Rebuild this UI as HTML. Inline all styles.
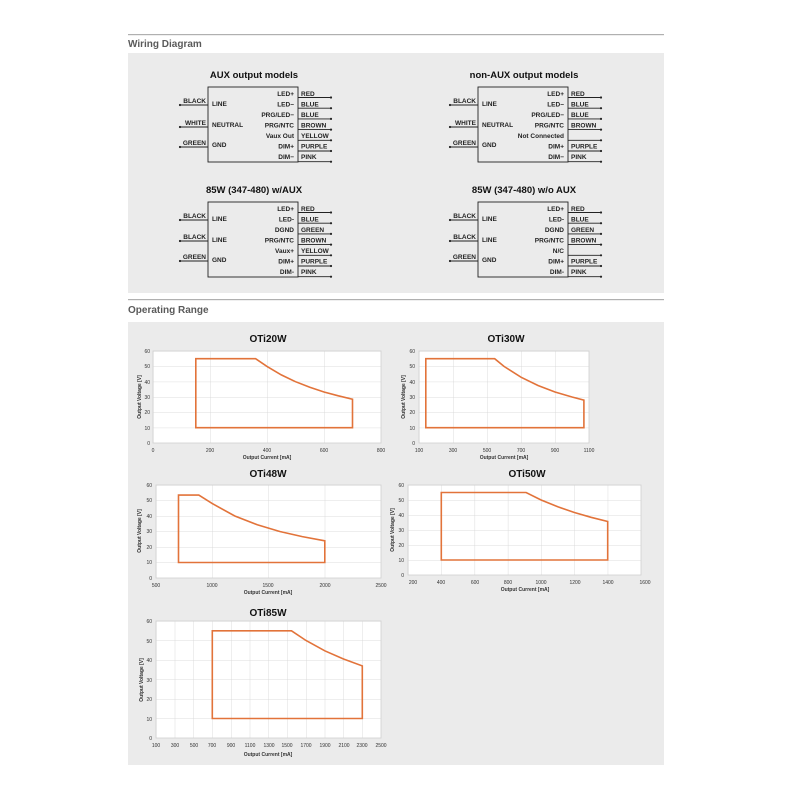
<!DOCTYPE html>
<html><head><meta charset="utf-8"><style>
html,body{margin:0;padding:0;background:#fff;}
svg{display:block;font-family:"Liberation Sans",Arial,sans-serif;}
.h{font-size:10px;font-weight:bold;fill:#5a5a5a}
.bt{font-size:9.5px;font-weight:bold;fill:#111}
.wl{font-size:6.5px;font-weight:bold;fill:#222}
.ct{font-size:10px;font-weight:bold;fill:#111}
.tk{font-size:5px;fill:#333}
.ax{font-size:5px;font-weight:bold;fill:#333}
.o{fill:none;stroke:#e2733a;stroke-width:1.6}
</style></head><body>
<svg width="800" height="800" viewBox="0 0 800 800">
<defs>
<pattern id="g1" patternUnits="userSpaceOnUse" x="153" y="351" width="57" height="15.333"><path d="M0 0H57M0 0V15.333" stroke="#d4d4d4" stroke-width="0.8" fill="none"/></pattern>
<pattern id="g2" patternUnits="userSpaceOnUse" x="419" y="351" width="34" height="15.333"><path d="M0 0H34M0 0V15.333" stroke="#d4d4d4" stroke-width="0.8" fill="none"/></pattern>
<pattern id="g3" patternUnits="userSpaceOnUse" x="156" y="485" width="56.25" height="15.5"><path d="M0 0H56.25M0 0V15.5" stroke="#d4d4d4" stroke-width="0.8" fill="none"/></pattern>
<pattern id="g4" patternUnits="userSpaceOnUse" x="408" y="485" width="33.286" height="15"><path d="M0 0H33.286M0 0V15" stroke="#d4d4d4" stroke-width="0.8" fill="none"/></pattern>
<pattern id="g5" patternUnits="userSpaceOnUse" x="156" y="621" width="18.75" height="19.5"><path d="M0 0H18.75M0 0V19.5" stroke="#d4d4d4" stroke-width="0.8" fill="none"/></pattern>
<g id="rw">
<path d="M0 10.5H33M0 21.2H33M0 31.9H33M0 42.6H33M0 53.3H33M0 64H33M0 74.7H33" stroke="#222" stroke-width="0.9"/>
<g fill="#222"><circle cx="33" cy="10.5" r="1.1"/><circle cx="33" cy="21.2" r="1.1"/><circle cx="33" cy="31.9" r="1.1"/><circle cx="33" cy="42.6" r="1.1"/><circle cx="33" cy="53.3" r="1.1"/><circle cx="33" cy="64" r="1.1"/><circle cx="33" cy="74.7" r="1.1"/></g>
</g>
</defs>
<rect x="0" y="0" width="800" height="800" fill="#fff"/>
<!-- Wiring header -->
<rect x="128" y="34" width="536" height="1.2" fill="#b0b0b0"/>
<text x="128" y="47" class="h">Wiring Diagram</text>
<rect x="128" y="53" width="536" height="240" fill="#ebebeb"/>

<!-- Block 1: AUX -->
<text x="254" y="78" class="bt" text-anchor="middle">AUX output models</text>
<g transform="translate(208,87)">
<rect x="0" y="0" width="90" height="75" fill="none" stroke="#222" stroke-width="0.9"/>
<use href="#rw" x="90" y="0"/>
<g class="wl" text-anchor="end"><text x="86" y="9">LED+</text><text x="86" y="19.5">LED−</text><text x="86" y="30">PRG/LED−</text><text x="86" y="40.5">PRG/NTC</text><text x="86" y="51">Vaux Out</text><text x="86" y="61.5">DIM+</text><text x="86" y="72">DIM−</text></g>
<g class="wl"><text x="93" y="9">RED</text><text x="93" y="19.5">BLUE</text><text x="93" y="30">BLUE</text><text x="93" y="40.5">BROWN</text><text x="93" y="51">YELLOW</text><text x="93" y="61.5">PURPLE</text><text x="93" y="72">PINK</text></g>
<g class="wl"><text x="4" y="19">LINE</text><text x="4" y="40">NEUTRAL</text><text x="4" y="60">GND</text></g>
<g class="wl" text-anchor="end"><text x="-2" y="16">BLACK</text><text x="-2" y="38">WHITE</text><text x="-2" y="58">GREEN</text></g>
<path d="M-28 18H0M-28 40H0M-28 60H0" stroke="#222" stroke-width="0.9"/>
<g fill="#222"><circle cx="-28" cy="18" r="1.1"/><circle cx="-28" cy="40" r="1.1"/><circle cx="-28" cy="60" r="1.1"/></g>
</g>

<!-- Block 2: non-AUX -->
<text x="524" y="78" class="bt" text-anchor="middle">non-AUX output models</text>
<g transform="translate(478,87)">
<rect x="0" y="0" width="90" height="75" fill="none" stroke="#222" stroke-width="0.9"/>
<use href="#rw" x="90" y="0"/>
<g class="wl" text-anchor="end"><text x="86" y="9">LED+</text><text x="86" y="19.5">LED−</text><text x="86" y="30">PRG/LED−</text><text x="86" y="40.5">PRG/NTC</text><text x="86" y="51">Not Connected</text><text x="86" y="61.5">DIM+</text><text x="86" y="72">DIM−</text></g>
<g class="wl"><text x="93" y="9">RED</text><text x="93" y="19.5">BLUE</text><text x="93" y="30">BLUE</text><text x="93" y="40.5">BROWN</text><text x="93" y="61.5">PURPLE</text><text x="93" y="72">PINK</text></g>
<g class="wl"><text x="4" y="19">LINE</text><text x="4" y="40">NEUTRAL</text><text x="4" y="60">GND</text></g>
<g class="wl" text-anchor="end"><text x="-2" y="16">BLACK</text><text x="-2" y="38">WHITE</text><text x="-2" y="58">GREEN</text></g>
<path d="M-28 18H0M-28 40H0M-28 60H0" stroke="#222" stroke-width="0.9"/>
<g fill="#222"><circle cx="-28" cy="18" r="1.1"/><circle cx="-28" cy="40" r="1.1"/><circle cx="-28" cy="60" r="1.1"/></g>
</g>

<!-- Block 3: 85W w/AUX -->
<text x="254" y="193" class="bt" text-anchor="middle">85W (347-480) w/AUX</text>
<g transform="translate(208,202)">
<rect x="0" y="0" width="90" height="75" fill="none" stroke="#222" stroke-width="0.9"/>
<use href="#rw" x="90" y="0"/>
<g class="wl" text-anchor="end"><text x="86" y="9">LED+</text><text x="86" y="19.5">LED-</text><text x="86" y="30">DGND</text><text x="86" y="40.5">PRG/NTC</text><text x="86" y="51">Vaux+</text><text x="86" y="61.5">DIM+</text><text x="86" y="72">DIM-</text></g>
<g class="wl"><text x="93" y="9">RED</text><text x="93" y="19.5">BLUE</text><text x="93" y="30">GREEN</text><text x="93" y="40.5">BROWN</text><text x="93" y="51">YELLOW</text><text x="93" y="61.5">PURPLE</text><text x="93" y="72">PINK</text></g>
<g class="wl"><text x="4" y="19">LINE</text><text x="4" y="40">LINE</text><text x="4" y="60">GND</text></g>
<g class="wl" text-anchor="end"><text x="-2" y="16">BLACK</text><text x="-2" y="37">BLACK</text><text x="-2" y="57">GREEN</text></g>
<path d="M-28 18H0M-28 39H0M-28 59H0" stroke="#222" stroke-width="0.9"/>
<g fill="#222"><circle cx="-28" cy="18" r="1.1"/><circle cx="-28" cy="39" r="1.1"/><circle cx="-28" cy="59" r="1.1"/></g>
</g>

<!-- Block 4: 85W w/o AUX -->
<text x="524" y="193" class="bt" text-anchor="middle">85W (347-480) w/o AUX</text>
<g transform="translate(478,202)">
<rect x="0" y="0" width="90" height="75" fill="none" stroke="#222" stroke-width="0.9"/>
<use href="#rw" x="90" y="0"/>
<g class="wl" text-anchor="end"><text x="86" y="9">LED+</text><text x="86" y="19.5">LED-</text><text x="86" y="30">DGND</text><text x="86" y="40.5">PRG/NTC</text><text x="86" y="51">N/C</text><text x="86" y="61.5">DIM+</text><text x="86" y="72">DIM-</text></g>
<g class="wl"><text x="93" y="9">RED</text><text x="93" y="19.5">BLUE</text><text x="93" y="30">GREEN</text><text x="93" y="40.5">BROWN</text><text x="93" y="61.5">PURPLE</text><text x="93" y="72">PINK</text></g>
<g class="wl"><text x="4" y="19">LINE</text><text x="4" y="40">LINE</text><text x="4" y="60">GND</text></g>
<g class="wl" text-anchor="end"><text x="-2" y="16">BLACK</text><text x="-2" y="37">BLACK</text><text x="-2" y="57">GREEN</text></g>
<path d="M-28 18H0M-28 39H0M-28 59H0" stroke="#222" stroke-width="0.9"/>
<g fill="#222"><circle cx="-28" cy="18" r="1.1"/><circle cx="-28" cy="39" r="1.1"/><circle cx="-28" cy="59" r="1.1"/></g>
</g>

<!-- Operating range header -->
<rect x="128" y="299" width="536" height="1.2" fill="#b0b0b0"/>
<text x="128" y="313" class="h">Operating Range</text>
<rect x="128" y="322" width="536" height="443" fill="#ebebeb"/>

<!-- Chart 1 OTi20W -->
<text x="268" y="342" class="ct" text-anchor="middle">OTi20W</text>
<rect x="153" y="351" width="228" height="92" fill="#fff"/>
<rect x="153" y="351" width="228" height="92" fill="url(#g1)" stroke="#cfcfcf" stroke-width="0.8"/>
<path class="o" d="M195.8 427.7V358.7H255.6L267 366.4L281.3 374.9L295.5 381.7L309.8 387.2L324 392L338.3 395.8L352.5 399.2V427.7Z"/>
<g class="tk" text-anchor="end"><text x="150" y="445">0</text><text x="150" y="430">10</text><text x="150" y="414">20</text><text x="150" y="399">30</text><text x="150" y="384">40</text><text x="150" y="368">50</text><text x="150" y="353">60</text></g>
<g class="tk" text-anchor="middle"><text x="153" y="452">0</text><text x="210" y="452">200</text><text x="267" y="452">400</text><text x="324" y="452">600</text><text x="381" y="452">800</text></g>
<text x="267" y="459" class="ax" text-anchor="middle">Output Current [mA]</text>
<text transform="translate(141,397) rotate(-90)" class="ax" text-anchor="middle">Output Voltage [V]</text>

<!-- Chart 2 OTi30W -->
<text x="506" y="342" class="ct" text-anchor="middle">OTi30W</text>
<rect x="419" y="351" width="170" height="92" fill="#fff"/>
<rect x="419" y="351" width="170" height="92" fill="url(#g2)" stroke="#cfcfcf" stroke-width="0.8"/>
<path class="o" d="M425.8 427.7V358.7H494.7L504 366.4L521 377.2L538 385.5L555 392L572 397L583.9 400.1V427.7Z"/>
<g class="tk" text-anchor="end"><text x="415" y="445">0</text><text x="415" y="430">10</text><text x="415" y="414">20</text><text x="415" y="399">30</text><text x="415" y="384">40</text><text x="415" y="368">50</text><text x="415" y="353">60</text></g>
<g class="tk" text-anchor="middle"><text x="419" y="452">100</text><text x="453" y="452">300</text><text x="487" y="452">500</text><text x="521" y="452">700</text><text x="555" y="452">900</text><text x="589" y="452">1100</text></g>
<text x="504" y="459" class="ax" text-anchor="middle">Output Current [mA]</text>
<text transform="translate(405,397) rotate(-90)" class="ax" text-anchor="middle">Output Voltage [V]</text>

<!-- Chart 3 OTi48W -->
<text x="268" y="477" class="ct" text-anchor="middle">OTi48W</text>
<rect x="156" y="485" width="225" height="93" fill="#fff"/>
<rect x="156" y="485" width="225" height="93" fill="url(#g3)" stroke="#cfcfcf" stroke-width="0.8"/>
<path class="o" d="M178.5 562.5V495.1H198.8L212.3 503.6L234.8 516L257.3 524.8L279.8 531.5L302.3 536.6L324.8 540.8V562.5Z"/>
<g class="tk" text-anchor="end"><text x="152" y="580">0</text><text x="152" y="564">10</text><text x="152" y="549">20</text><text x="152" y="533">30</text><text x="152" y="518">40</text><text x="152" y="502">50</text><text x="152" y="487">60</text></g>
<g class="tk" text-anchor="middle"><text x="156" y="587">500</text><text x="212" y="587">1000</text><text x="268" y="587">1500</text><text x="325" y="587">2000</text><text x="381" y="587">2500</text></g>
<text x="268" y="594" class="ax" text-anchor="middle">Output Current [mA]</text>
<text transform="translate(141,531) rotate(-90)" class="ax" text-anchor="middle">Output Voltage [V]</text>

<!-- Chart 4 OTi50W -->
<text x="527" y="477" class="ct" text-anchor="middle">OTi50W</text>
<rect x="408" y="485" width="233" height="90" fill="#fff"/>
<rect x="408" y="485" width="233" height="90" fill="url(#g4)" stroke="#cfcfcf" stroke-width="0.8"/>
<path class="o" d="M441.3 560V492.5H526.1L541.1 500L557.8 506.8L574.4 512.5L591 517.3L607.7 521.5V560Z"/>
<g class="tk" text-anchor="end"><text x="404" y="577">0</text><text x="404" y="562">10</text><text x="404" y="547">20</text><text x="404" y="532">30</text><text x="404" y="517">40</text><text x="404" y="502">50</text><text x="404" y="487">60</text></g>
<g class="tk" text-anchor="middle"><text x="413" y="584">200</text><text x="441" y="584">400</text><text x="475" y="584">600</text><text x="508" y="584">800</text><text x="541" y="584">1000</text><text x="575" y="584">1200</text><text x="608" y="584">1400</text><text x="645" y="584">1600</text></g>
<text x="525" y="591" class="ax" text-anchor="middle">Output Current [mA]</text>
<text transform="translate(394,530) rotate(-90)" class="ax" text-anchor="middle">Output Voltage [V]</text>

<!-- Chart 5 OTi85W -->
<text x="268" y="616" class="ct" text-anchor="middle">OTi85W</text>
<rect x="156" y="621" width="225" height="117" fill="#fff"/>
<rect x="156" y="621" width="225" height="117" fill="url(#g5)" stroke="#cfcfcf" stroke-width="0.8"/>
<path class="o" d="M212.3 718.5V630.8H291.5L306 640.5L324.8 650.8L343.5 659L362.3 665.9V718.5Z"/>
<g class="tk" text-anchor="end"><text x="152" y="740">0</text><text x="152" y="721">10</text><text x="152" y="701">20</text><text x="152" y="682">30</text><text x="152" y="662">40</text><text x="152" y="643">50</text><text x="152" y="623">60</text></g>
<g class="tk" text-anchor="middle"><text x="156" y="747">100</text><text x="175" y="747">300</text><text x="194" y="747">500</text><text x="212" y="747">700</text><text x="231" y="747">900</text><text x="250" y="747">1100</text><text x="269" y="747">1300</text><text x="287" y="747">1500</text><text x="306" y="747">1700</text><text x="325" y="747">1900</text><text x="344" y="747">2100</text><text x="362" y="747">2300</text><text x="381" y="747">2500</text></g>
<text x="268" y="756" class="ax" text-anchor="middle">Output Current [mA]</text>
<text transform="translate(143,680) rotate(-90)" class="ax" text-anchor="middle">Output Voltage [V]</text>
</svg>
</body></html>
